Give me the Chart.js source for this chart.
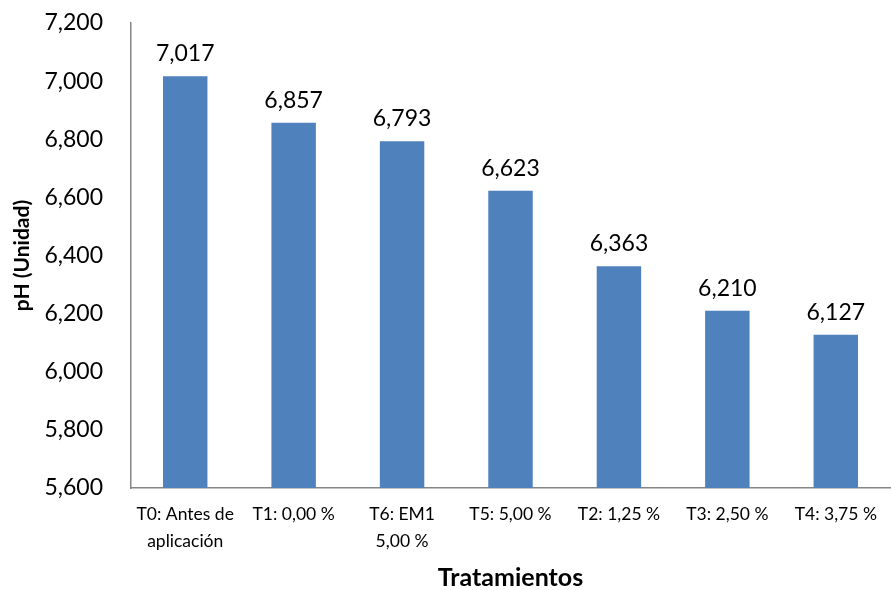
<!DOCTYPE html>
<html>
<head>
<meta charset="utf-8">
<script src="https://cdn.jsdelivr.net/npm/chart.js@4/dist/chart.umd.min.js"></script>
<style>
  html, body { margin: 0; padding: 0; background: #ffffff; }
  #wrap { width: 891px; height: 590px; }
</style>
</head>
<body>
<div id="wrap"><canvas id="chart" width="891" height="590"></canvas></div>
<script>
// Treatments on the x axis (multi-line where the label wraps)
const categories = [
  ['T0: Antes de', 'aplicación'],
  'T1: 0,00 %',
  ['T6: EM1', '5,00 %'],
  'T5: 5,00 %',
  'T2: 1,25 %',
  'T3: 2,50 %',
  'T4: 3,75 %'
];
// Mean pH per treatment
const phValues = [7.017, 6.857, 6.793, 6.623, 6.363, 6.210, 6.127];
// Value axis limits
const yMin = 5.6;
const yMax = 7.2;
const yStep = 0.2;

const fmt = v => v.toFixed(3).replace('.', ',');

const valueLabels = {
  id: 'valueLabels',
  afterDatasetsDraw(chart) {
    const ctx = chart.ctx;
    const meta = chart.getDatasetMeta(0);
    ctx.save();
    ctx.font = '23px Lato';
    ctx.fillStyle = '#000000';
    ctx.textAlign = 'center';
    ctx.textBaseline = 'alphabetic';
    meta.data.forEach((bar, i) => {
      ctx.fillText(fmt(phValues[i]), bar.x, bar.y - 15);
    });
    ctx.restore();
  }
};

new Chart(document.getElementById('chart'), {
  type: 'bar',
  data: {
    labels: categories,
    datasets: [{
      data: phValues,
      backgroundColor: '#4F81BD',
      borderWidth: 0,
      categoryPercentage: 1,
      barPercentage: 0.41
    }]
  },
  options: {
    responsive: false,
    animation: false,
    layout: { padding: { top: 23, right: 1, left: 0, bottom: 0 } },
    plugins: { legend: { display: false }, tooltip: { enabled: false } },
    scales: {
      x: {
        grid: { display: false, drawTicks: false },
        border: { display: true, color: '#868686', width: 1.5 },
        ticks: {
          color: '#000000',
          font: { family: 'Lato', size: 17.5, lineHeight: 1.55 },
          padding: 13,
          maxRotation: 0,
          autoSkip: false
        },
        title: {
          display: true,
          text: 'Tratamientos',
          color: '#000000',
          font: { family: 'Lato', size: 25, weight: 'bold', lineHeight: 1 },
          padding: { top: 0, bottom: 0 }
        },
        afterFit: s => { s.height = 102; s.paddingLeft = 0; s.paddingRight = 0; }
      },
      y: {
        min: yMin,
        max: yMax,
        grid: { display: false, drawTicks: false },
        border: { display: true, color: '#868686', width: 1.5 },
        ticks: {
          stepSize: yStep,
          color: '#000000',
          font: { family: 'Lato', size: 23 },
          padding: 28,
          callback: v => fmt(v)
        },
        title: {
          display: true,
          text: 'pH (Unidad)',
          color: '#000000',
          font: { family: 'Lato', size: 21, weight: 'bold' },
          padding: { top: 10, bottom: 0 }
        },
        afterFit: s => { s.width = 131; s.paddingTop = 0; s.paddingBottom = 0; }
      }
    }
  },
  plugins: [valueLabels]
});
</script>
</body>
</html>
